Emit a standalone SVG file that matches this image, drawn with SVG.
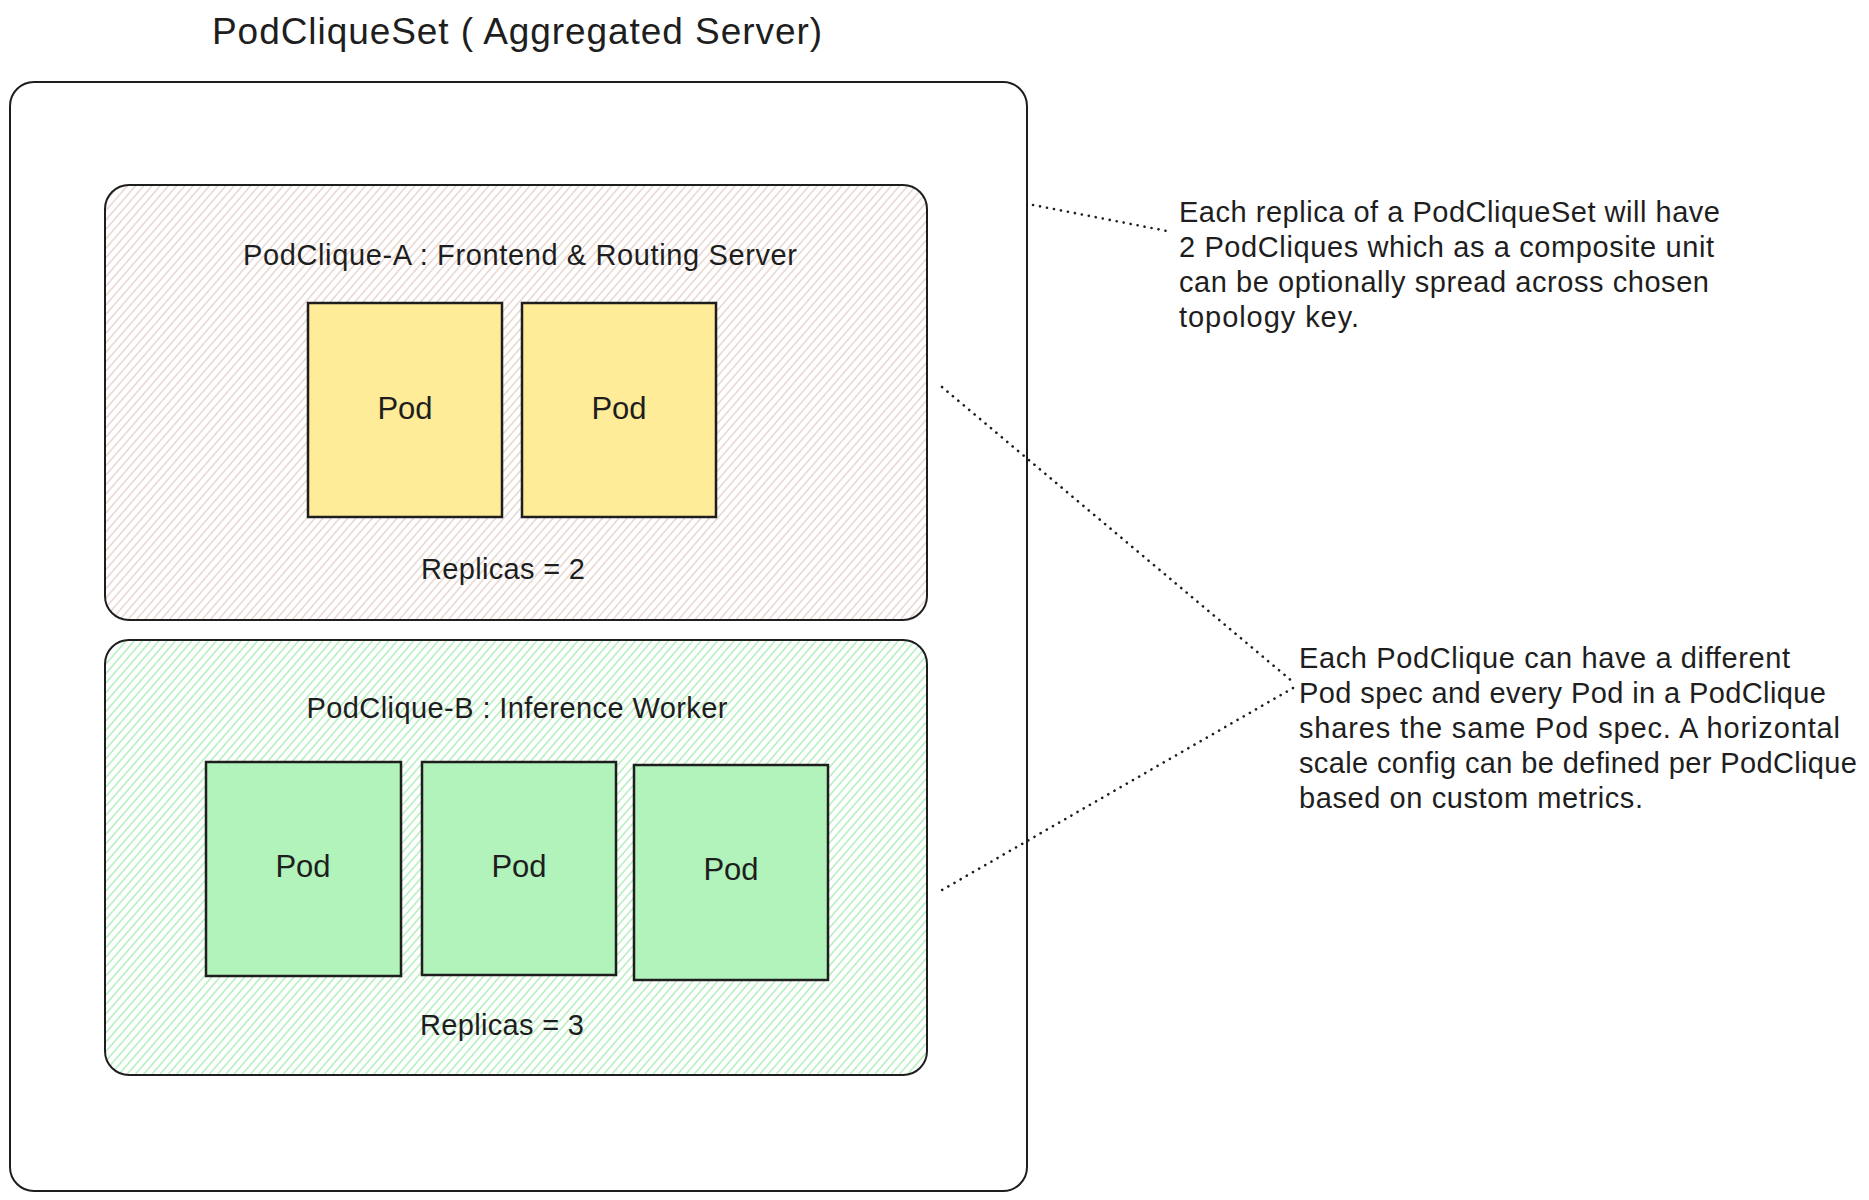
<svg xmlns="http://www.w3.org/2000/svg" width="1869" height="1200" viewBox="0 0 1869 1200">
  <defs>
    <pattern id="hatchA" patternUnits="userSpaceOnUse" width="6.2" height="6.2" patternTransform="rotate(41)">
      <line x1="1" y1="0" x2="1" y2="6.2" stroke="#e3cfc8" stroke-width="1.3"/>
    </pattern>
    <pattern id="hatchB" patternUnits="userSpaceOnUse" width="6.2" height="6.2" patternTransform="rotate(41)">
      <line x1="1" y1="0" x2="1" y2="6.2" stroke="#a6ecb0" stroke-width="1.3"/>
    </pattern>
  </defs>
  <style>
    text { font-family: "Liberation Sans", Arial, sans-serif; fill: #1e1e1e; }
    .title { font-size: 37px; }
    .lbl { font-size: 29px; }
    .note { font-size: 29px; }
    .pod { font-size: 31px; text-anchor: middle; }
    .mid { text-anchor: middle; }
    .box { fill: none; stroke: #1e1e1e; stroke-width: 2; }
    .podA { fill: #ffec99; stroke: #1e1e1e; stroke-width: 2.5; }
    .podB { fill: #b2f2bb; stroke: #1e1e1e; stroke-width: 2.5; }
    .dot { fill: none; stroke: #1e1e1e; stroke-width: 2.6; stroke-linecap: round; stroke-dasharray: 0.1 7; }
  </style>
  <rect width="1869" height="1200" fill="#ffffff"/>

  <g id="title">
    <text class="title mid" x="517" y="44" textLength="610">PodCliqueSet ( Aggregated Server)</text>
  </g>

  <g id="podcliqueset">
    <rect class="box" x="10" y="82" width="1017" height="1109" rx="24" ry="24"/>
  </g>

  <g id="podclique-a">
    <rect x="105" y="185" width="822" height="435" rx="24" ry="24" fill="url(#hatchA)"/>
    <rect class="box" x="105" y="185" width="822" height="435" rx="24" ry="24"/>
    <text class="lbl mid" x="520" y="265" textLength="554">PodClique-A : Frontend &amp; Routing Server</text>
    <text class="lbl mid" x="503" y="579" textLength="164">Replicas = 2</text>
  </g>
  <g id="pod-a1">
    <rect class="podA" x="308" y="303" width="194" height="214"/>
    <text class="pod" x="405" y="419">Pod</text>
  </g>
  <g id="pod-a2">
    <rect class="podA" x="522" y="303" width="194" height="214"/>
    <text class="pod" x="619" y="419">Pod</text>
  </g>

  <g id="podclique-b">
    <rect x="105" y="640" width="822" height="435" rx="24" ry="24" fill="url(#hatchB)"/>
    <rect class="box" x="105" y="640" width="822" height="435" rx="24" ry="24"/>
    <text class="lbl mid" x="517" y="718" textLength="421">PodClique-B : Inference Worker</text>
    <text class="lbl mid" x="502" y="1035" textLength="164">Replicas = 3</text>
  </g>
  <g id="pod-b1">
    <rect class="podB" x="206" y="762" width="195" height="214"/>
    <text class="pod" x="303" y="877">Pod</text>
  </g>
  <g id="pod-b2">
    <rect class="podB" x="422" y="762" width="194" height="213"/>
    <text class="pod" x="519" y="877">Pod</text>
  </g>
  <g id="pod-b3">
    <rect class="podB" x="634" y="765" width="194" height="215"/>
    <text class="pod" x="731" y="880">Pod</text>
  </g>

  <g id="note-1">
    <text class="note" x="1179" y="222" textLength="541">Each replica of a PodCliqueSet will have</text>
    <text class="note" x="1179" y="257" textLength="535">2 PodCliques which as a composite unit</text>
    <text class="note" x="1179" y="292" textLength="530">can be optionally spread across chosen</text>
    <text class="note" x="1179" y="327" textLength="180">topology key.</text>
  </g>

  <g id="note-2">
    <text class="note" x="1299" y="668" textLength="491">Each PodClique can have a different</text>
    <text class="note" x="1299" y="703" textLength="527">Pod spec and every Pod in a PodClique</text>
    <text class="note" x="1299" y="738" textLength="541">shares the same Pod spec. A horizontal</text>
    <text class="note" x="1299" y="773" textLength="558">scale config can be defined per PodClique</text>
    <text class="note" x="1299" y="808" textLength="344">based on custom metrics.</text>
  </g>

  <g id="connectors">
    <path class="dot" d="M1033 205 L1167 231"/>
    <path class="dot" d="M942 387 L1293 682"/>
    <path class="dot" d="M1293 688 L942 890"/>
  </g>
</svg>
